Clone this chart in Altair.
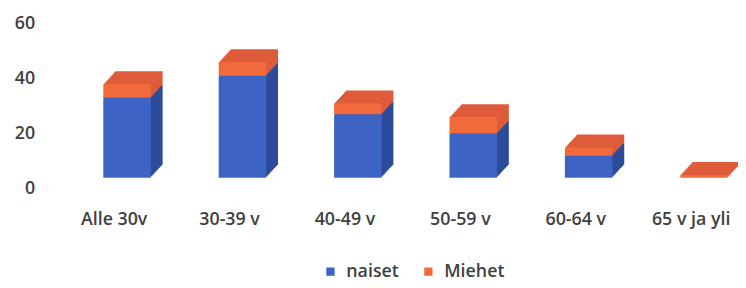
import altair as alt
import pandas as pd

categories = ["Alle 30v", "30-39 v", "40-49 v", "50-59 v", "60-64 v", "65 v ja yli"]
series = ["naiset", "Miehet"]
naiset = [29, 37, 23, 16, 8, 0]
miehet = [5, 5, 4, 6, 3, 1]
y_ticks = [0, 20, 40, 60]

rows = []
for i, c in enumerate(categories):
    rows.append({"ika": c, "sarja": "naiset", "arvo": naiset[i], "jarj": 0})
    rows.append({"ika": c, "sarja": "Miehet", "arvo": miehet[i], "jarj": 1})
df = pd.DataFrame(rows)

FONT = "Open Sans"
TXT = "#3f3f3f"
FS = 18

x = alt.X(
    "ika:N", sort=categories, scale=alt.Scale(range=[0, 700]),
    axis=alt.Axis(title=None, labelAngle=0, domain=False, ticks=False,
                  labelPadding=22, labelFontSize=FS, labelFont=FONT,
                  labelFontWeight=600, labelColor=TXT),
)
y = alt.Y(
    "arvo:Q", stack="zero", scale=alt.Scale(domain=[0, 60]),
    axis=alt.Axis(title=None, values=y_ticks, domain=False, ticks=False, grid=False,
                  labelPadding=22, labelFontSize=FS, labelFont=FONT,
                  labelFontWeight=600, labelColor=TXT),
)

# depth of the pseudo-3D boxes, drawn as a stack of shifted copies
DEPTH_STEPS = 12
layers = []
for k in range(DEPTH_STEPS, 0, -1):
    layers.append(
        alt.Chart(df).mark_bar(size=48, xOffset=13 + k, yOffset=-11 - k * 13 / DEPTH_STEPS).encode(
            x=x, y=y,
            color=alt.Color("sarja:N",
                            scale=alt.Scale(domain=series, range=["#2d4c9a", "#de5c3a"]),
                            legend=None),
            order=alt.Order("jarj:Q"),
        )
    )

front = alt.Chart(df).mark_bar(size=48, xOffset=13, yOffset=-11).encode(
    x=x, y=y,
    color=alt.Color("sarja:N", scale=alt.Scale(domain=series, range=["#3d63c4", "#f26a3c"]),
                    legend=alt.Legend(orient="none", legendX=268, legendY=242,
                                      direction="horizontal", title=None,
                                      symbolType="square", symbolSize=70,
                                      symbolStrokeWidth=0, labelFontSize=FS,
                                      labelFont=FONT, labelFontWeight=600,
                                      labelColor=TXT, labelOffset=7,
                                      columnPadding=20)),
    order=alt.Order("jarj:Q"),
)
layers.append(front)

chart = alt.layer(*layers).resolve_scale(color="independent").properties(
    width=689, height=167,
    autosize=alt.AutoSizeParams(type="none"),
    padding={"left": 49, "top": 14, "right": 0, "bottom": 98},
).configure_view(stroke=None)

chart.save("out.html", embed_options={"renderer": "svg", "actions": False})
